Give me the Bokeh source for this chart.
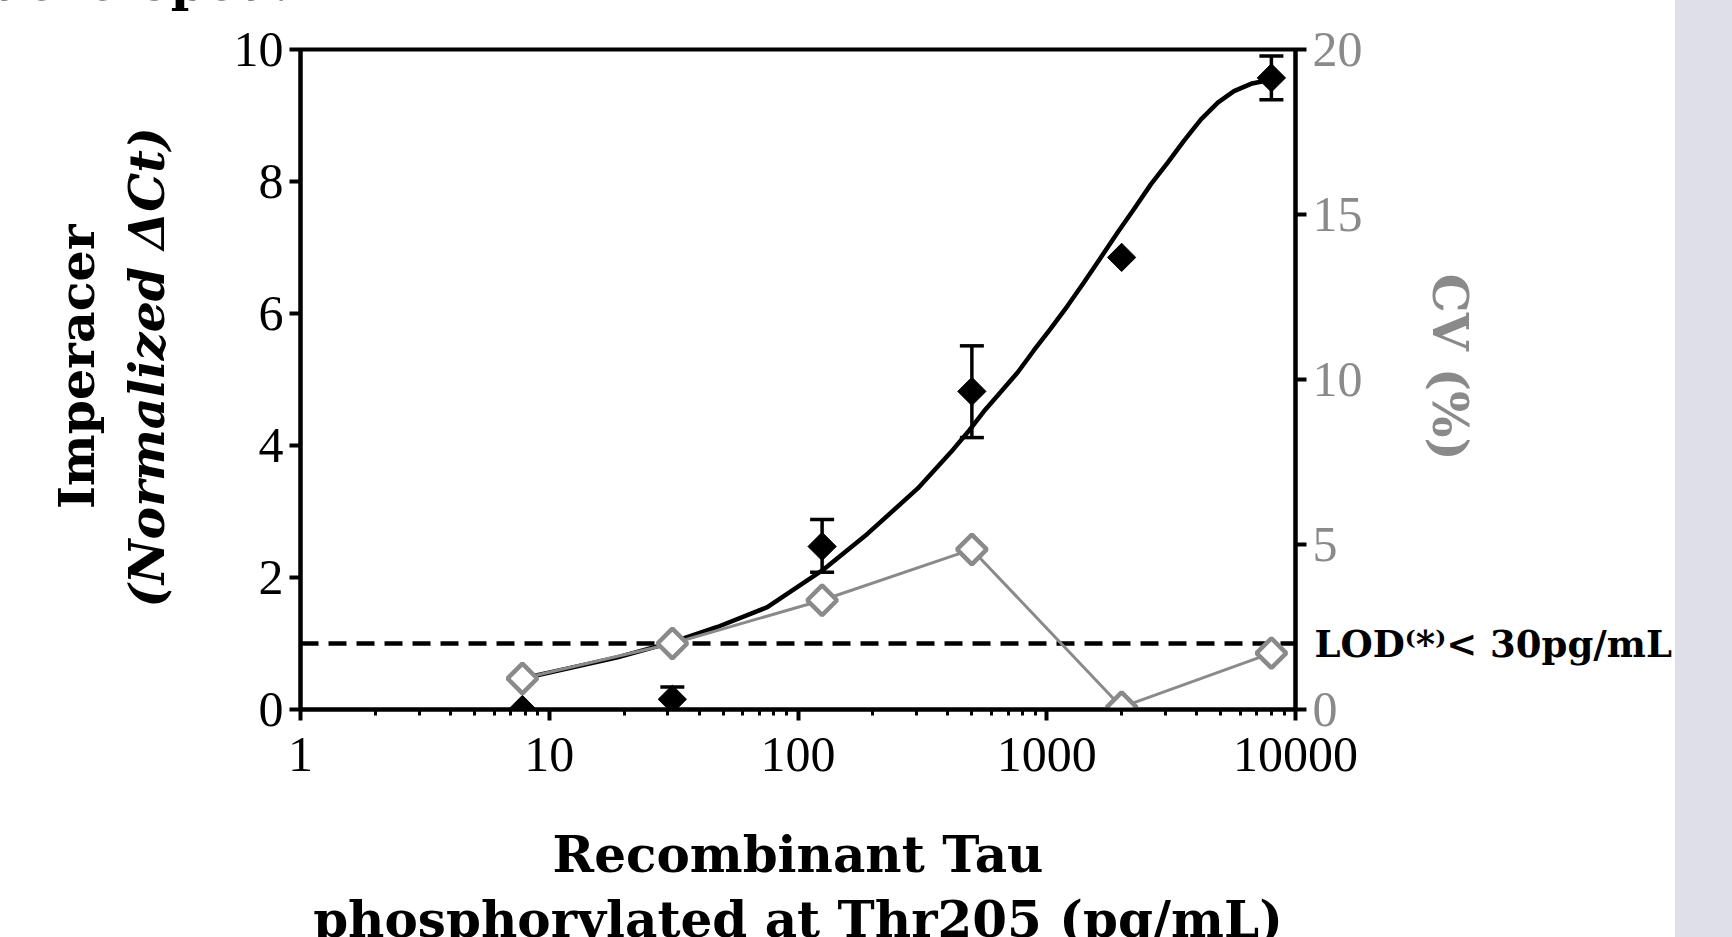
from math import pi
from bokeh.plotting import figure
from bokeh.models import (Range1d, LinearAxis, FixedTicker, BasicTickFormatter,
                          Title, Whisker, TeeHead, ColumnDataSource, Span, Div)
from bokeh.layouts import row, column
from bokeh.embed import file_html
from bokeh.resources import INLINE

# ---------------- data ----------------
conc = [7.8, 31.25, 125, 500, 2000, 8000]            # pg/mL
signal = [0.0, 0.155, 2.47, 4.82, 6.85, 9.57]          # normalized dCt
sig_lo = [0.0, 0.155, 2.08, 4.12, 6.85, 9.24]
sig_hi = [0.0, 0.34, 2.88, 5.51, 6.85, 9.90]
cv = [0.94, 2.0, 3.31, 4.85, 0.07, 1.71]                # CV (%)

fit_x = [7.8, 11.8, 18.8, 31.3, 47.4, 75.3, 125.6, 190, 303, 412, 481, 557, 653,
         765, 887, 1037, 1215, 1410, 1650, 1930, 2240, 2625, 3070, 3565, 4170,
         4885, 5660, 6620, 7745]
fit_y = [0.47, 0.62, 0.79, 1.02, 1.25, 1.55, 2.11, 2.66, 3.35, 3.90, 4.20, 4.51,
         4.81, 5.11, 5.44, 5.77, 6.12, 6.47, 6.85, 7.23, 7.58, 7.96, 8.29, 8.62,
         8.94, 9.20, 9.37, 9.48, 9.535]

lod_level = 1.0
lod_text = "LOD⁽*⁾< 30pg/mL"

y_ticks = [0, 2, 4, 6, 8, 10]
cv_ticks = [0, 5, 10, 15, 20]
x_ticks = [1, 10, 100, 1000, 10000]
x_minor = [m * d for d in [1, 10, 100, 1000] for m in range(2, 10)]

GRAY = "#8a8a8a"
SERIF = "Liberation Serif"
BOLD = "DejaVu Serif"

# ---------------- geometry ----------------
TOP = 16            # height of the strip that carries the cut-off text
W, H = 1675, 937 - TOP
L, R = 300, 1295
T, B = 49 - TOP, 709 - TOP

p = figure(width=W, height=H, x_axis_type="log",
           x_range=Range1d(1, 10000), y_range=Range1d(0, 10),
           output_backend="svg", toolbar_location=None,
           min_border_left=L, min_border_right=W - R,
           min_border_top=T, min_border_bottom=H - B)
p.extra_y_ranges = {"cv": Range1d(0, 20)}
p.grid.visible = False
p.outline_line_color = "black"
p.outline_line_width = 4
p.background_fill_color = "white"
p.border_fill_color = "white"

right = LinearAxis(y_range_name="cv")
p.add_layout(right, "right")

p.xaxis.ticker = FixedTicker(ticks=x_ticks, minor_ticks=x_minor)
p.xaxis.formatter = BasicTickFormatter(use_scientific=False)
p.yaxis[0].ticker = FixedTicker(ticks=y_ticks, minor_ticks=[])
right.ticker = FixedTicker(ticks=cv_ticks, minor_ticks=[])

for ax in [p.xaxis[0], p.yaxis[0], right]:
    ax.axis_line_width = 4
    ax.axis_line_color = "black"
    ax.major_tick_line_width = 4
    ax.major_tick_out = 11
    ax.major_tick_in = 0
    ax.minor_tick_line_width = 3
    ax.minor_tick_in = 0
    ax.minor_tick_out = 6
    ax.major_label_text_font = SERIF
    ax.major_label_text_font_size = "50px"
    ax.major_label_text_color = "black"
    ax.major_label_standoff = 6
    ax.axis_label_text_font = BOLD
    ax.axis_label_text_font_style = "bold"
    ax.axis_label_text_color = "black"
right.major_label_text_color = GRAY
p.xaxis.major_label_standoff = 17

# axis titles
yax = p.yaxis[0]
yax.axis_label = "\u2002(Normalized ΔCt)"
yax.axis_label_text_font_style = "bold italic"
yax.axis_label_text_font_size = "49px"
yax.axis_label_standoff = 55

p.add_layout(Title(text="Imperacer", align="right", offset=175,
                   vertical_align="top", standoff=14, text_font=BOLD,
                   text_font_size="49px", text_font_style="bold",
                   text_color="black"), "left")

right.axis_label = "CV (%)\u2002"
right.axis_label_text_color = GRAY
right.axis_label_text_font_size = "49px"
right.axis_label_standoff = 55

xax = p.xaxis[0]
xax.axis_label = "Recombinant Tau"
xax.axis_label_text_font_size = "50px"
xax.axis_label_standoff = 51

# second line of the x title (cut by the bottom edge, as in the reference)
p.add_layout(Title(text="\nphosphorylated at Thr205 (pg/mL)", align="center",
                   vertical_align="top", standoff=-40, text_font=BOLD,
                   text_font_size="50px", text_font_style="bold",
                   text_line_height=0.4, text_color="black"), "below")

# LOD text: a label-only axis on the right, tick at the LOD level
lod_axis = LinearAxis(ticker=FixedTicker(ticks=[lod_level], minor_ticks=[]),
                      major_label_overrides={lod_level: lod_text})
lod_axis.axis_line_color = None
lod_axis.major_tick_line_color = None
lod_axis.minor_tick_line_color = None
lod_axis.major_tick_out = 0
lod_axis.major_tick_in = 0
lod_axis.major_label_standoff = -167
lod_axis.major_label_text_font = BOLD
lod_axis.major_label_text_font_style = "bold"
lod_axis.major_label_text_font_size = "37px"
lod_axis.major_label_text_color = "black"
p.add_layout(lod_axis, "right")

# ---------------- glyphs ----------------
lod = Span(location=lod_level, dimension="width", line_color="black",
           line_width=4.5, line_dash="18 10", level="underlay")
p.add_layout(lod)

p.line(fit_x, fit_y, line_color="black", line_width=4.5)
p.line(conc, cv, y_range_name="cv", line_color=GRAY, line_width=3)
p.scatter(conc, cv, y_range_name="cv", marker="square", angle=pi / 4, size=21,
          fill_color="white", line_color=GRAY, line_width=4.5)

src = ColumnDataSource(dict(x=conc, y=signal, lo=sig_lo, hi=sig_hi))
wh = Whisker(base="x", upper="hi", lower="lo", source=src, line_width=3.5,
             line_color="black",
             upper_head=TeeHead(size=24, line_width=3.5, line_color="black"),
             lower_head=TeeHead(size=24, line_width=3.5, line_color="black"))
p.add_layout(wh)
p.scatter("x", "y", source=src, marker="square", angle=pi / 4, size=20,
          fill_color="black", line_color="black")

# ---------------- surrounding page pieces ----------------
top_strip = Div(
    text=('<div style="position:relative;width:290px;height:16px;">'
          '<div style="position:absolute;right:0;top:-42px;white-space:nowrap;'
          'font-family:\'DejaVu Serif\';font-weight:bold;font-size:50px;'
          'line-height:50px;color:black">developed.</div></div>'),
    width=W, height=TOP, margin=0)
panel = Div(text="", width=1732 - W, height=937, margin=0,
            styles={"background-color": "#dfdfea"})

layout = row(column(top_strip, p, spacing=0), panel, spacing=0)
open("out.html", "w").write(file_html(layout, INLINE))
